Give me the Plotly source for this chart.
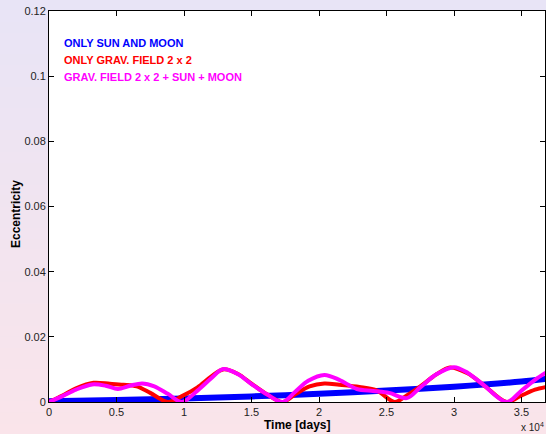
import plotly.graph_objects as go

# ---- data (time in units of 1e4 days, eccentricity) ----
blue_t = [0, 0.5, 1.0, 1.5, 2.0, 2.5, 3.0, 3.5, 3.68]
blue_e = [0.0002, 0.0006, 0.0011, 0.0017, 0.0025, 0.0035, 0.0047, 0.0063, 0.0071]

red_t = [0, 0.1, 0.2, 0.33, 0.45, 0.55, 0.65, 0.75, 0.88, 0.985, 1.1, 1.2, 1.29, 1.4, 1.5,
         1.62, 1.73, 1.83, 1.93, 2.04, 2.15, 2.3, 2.43, 2.56, 2.65, 2.75, 2.87, 2.97, 3.1,
         3.22, 3.39, 3.49, 3.6, 3.68]
red_e = [0, 0.002, 0.0042, 0.0059, 0.0056, 0.0053, 0.0048, 0.0028, 0.0, 0.0018, 0.0045,
         0.0078, 0.0100, 0.0086, 0.0056, 0.0022, 0.0, 0.0025, 0.0048, 0.0057, 0.0053, 0.0046,
         0.0035, 0.0, 0.002, 0.0048, 0.0085, 0.0106, 0.0088, 0.0052, 0.0, 0.0018, 0.0038, 0.0046]

mag_t = [0, 0.1, 0.2, 0.32, 0.42, 0.51, 0.6, 0.69, 0.78, 0.88, 0.985, 1.1, 1.2, 1.29, 1.4,
         1.5, 1.62, 1.73, 1.82, 1.92, 2.04, 2.15, 2.28, 2.4, 2.52, 2.65, 2.75, 2.87, 3.0,
         3.1, 3.22, 3.39, 3.5, 3.6, 3.68]
mag_e = [0, 0.0018, 0.0038, 0.0054, 0.0050, 0.0040, 0.0050, 0.0057, 0.0048, 0.0025, 0.0,
         0.0035, 0.0072, 0.0101, 0.0085, 0.0055, 0.0022, 0.0, 0.003, 0.0065, 0.0083, 0.0068,
         0.0040, 0.0034, 0.0028, 0.0012, 0.0045, 0.0085, 0.0107, 0.0090, 0.0052, 0.0, 0.0035,
         0.0068, 0.0090]

series_names = ["ONLY SUN AND MOON", "ONLY GRAV. FIELD 2 x 2", "GRAV. FIELD 2 x 2 + SUN + MOON"]
series_colors = ["#0000FF", "#FF0000", "#FF00FF"]

x_tick_vals = [0, 0.5, 1, 1.5, 2, 2.5, 3, 3.5]
y_tick_vals = [0, 0.02, 0.04, 0.06, 0.08, 0.1, 0.12]
y_tick_text = ["0", "0.02", "0.04", "0.06", "0.08", "0.1", "0.12"]

W, H = 546, 434
L, R, T, B = 49, 1, 11, 32

fig = go.Figure()
for t, e, name, col, w in [(blue_t, blue_e, series_names[0], series_colors[0], 6),
                           (red_t, red_e, series_names[1], series_colors[1], 4),
                           (mag_t, mag_e, series_names[2], series_colors[2], 4)]:
    fig.add_trace(go.Scatter(x=[v * 1e4 for v in t], y=e, mode="lines", name=name,
                             line=dict(color=col, width=w, shape="spline", smoothing=0.9),
                             showlegend=False, hoverinfo="skip"))

# background gradient (lavender top -> pink bottom) via bands
pw, ph = W - L - R, H - T - B
def px2paper_x(px):
    return (px - L) / pw
def py2paper_y(py):
    return 1 - (py - T) / ph

top = (0xE8, 0xE4, 0xF6)
bot = (0xFA, 0xE4, 0xEA)
shapes = []
n = 40
for i in range(n):
    f = (i + 0.5) / n
    c = tuple(round(top[k] + (bot[k] - top[k]) * f) for k in range(3))
    y0 = i * H / n
    y1 = (i + 1) * H / n + 0.5
    shapes.append(dict(type="rect", xref="paper", yref="paper", layer="below",
                       x0=px2paper_x(0), x1=px2paper_x(W), y0=py2paper_y(y1), y1=py2paper_y(y0),
                       line=dict(width=0), fillcolor="rgb(%d,%d,%d)" % c))
shapes.append(dict(type="rect", xref="paper", yref="paper", layer="below",
                   x0=0, x1=1, y0=0, y1=1, line=dict(width=0), fillcolor="white"))

ann = []
for i, (name, col) in enumerate(zip(series_names, series_colors)):
    ann.append(dict(xref="paper", yref="paper", x=px2paper_x(62), y=py2paper_y(43 + 17 * i),
                    xanchor="left", yanchor="middle", showarrow=False, text="<b>%s</b>" % name,
                    font=dict(family="Liberation Sans, Arial", size=11, color=col)))
ann.append(dict(xref="paper", yref="paper", x=px2paper_x(297), y=py2paper_y(425),
                xanchor="center", yanchor="middle", showarrow=False, text="<b>Time [days]</b>",
                font=dict(family="Liberation Sans, Arial", size=12, color="black")))
ann.append(dict(xref="paper", yref="paper", x=px2paper_x(16), y=py2paper_y(214),
                xanchor="center", yanchor="middle", showarrow=False, text="<b>Eccentricity</b>",
                textangle=-90, font=dict(family="Liberation Sans, Arial", size=12, color="black")))
ann.append(dict(xref="paper", yref="paper", x=px2paper_x(519), y=py2paper_y(427),
                xanchor="left", yanchor="middle", showarrow=False, text="x 10<sup>4</sup>",
                font=dict(family="Liberation Sans, Arial", size=10, color="#222")))

fig.update_layout(
    width=W, height=H, margin=dict(l=L, r=R, t=T, b=B, pad=0),
    paper_bgcolor="rgb(240,228,240)", plot_bgcolor="rgba(0,0,0,0)",
    shapes=shapes, annotations=ann, showlegend=False, hovermode=False,
    font=dict(family="Liberation Sans, Arial", size=11, color="#222"),
)
fig.update_xaxes(range=[0, 3.674e4], tickvals=[v * 1e4 for v in x_tick_vals],
                 ticktext=[("%g" % v) for v in x_tick_vals], ticks="inside", ticklen=5,
                 tickcolor="black", showline=True, linecolor="black", linewidth=1, mirror="ticks",
                 showgrid=False, zeroline=False, tickfont=dict(size=11, color="#222"))
fig.update_yaxes(range=[0, 0.12], tickvals=y_tick_vals, ticktext=y_tick_text, ticks="inside",
                 ticklen=5, tickcolor="black", showline=True, linecolor="black", linewidth=1,
                 mirror="ticks", showgrid=False, zeroline=False, tickfont=dict(size=11, color="#222"))

fig.write_html("out.html", config={"displayModeBar": False},
               post_script="document.body.style.margin='0';document.body.style.overflow='hidden';")
